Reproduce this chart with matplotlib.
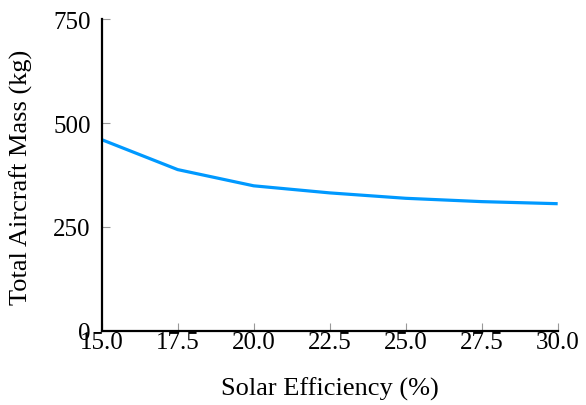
import matplotlib
matplotlib.use("Agg")
import matplotlib.pyplot as plt

# solar efficiency (%) vs total aircraft mass (kg)
efficiency = [15.0, 17.5, 20.0, 22.5, 25.0, 27.5, 30.0]
mass = [460, 388, 349, 332, 319, 311, 306]
xticks = [15.0, 17.5, 20.0, 22.5, 25.0, 27.5, 30.0]
yticks = [0, 250, 500, 750]

plt.rcParams['font.family'] = ['Liberation Serif', 'DejaVu Serif']
plt.rcParams['mathtext.fontset'] = 'stix'

fig = plt.figure(figsize=(5.86, 4.06), dpi=100)
ax = fig.add_axes([0.1735, 0.1823, 0.7782, 0.7684])

ax.plot(efficiency, mass, color='#0099ff', linewidth=2.3, solid_capstyle='butt')

ax.set_xlim(15, 30)
ax.set_ylim(0, 750)
ax.set_xticks(xticks)
ax.set_xticklabels(['%.1f' % t for t in xticks])
ax.set_yticks(yticks)

for s in ['top', 'right']:
    ax.spines[s].set_visible(False)
for s in ['left', 'bottom']:
    ax.spines[s].set_linewidth(1.6)
    ax.spines[s].set_color('black')

ax.tick_params(axis='x', direction='in', length=6, width=0.8, color='#999999',
               labelsize=18, pad=0)
ax.tick_params(axis='y', direction='in', length=6, width=0.8, color='#999999',
               labelsize=18, pad=8)

ax.set_xlabel('Solar Efficiency (%)', fontsize=19)
ax.xaxis.set_label_coords(0.5, -0.147)
ax.set_ylabel('Total Aircraft Mass (kg)', fontsize=19)
ax.yaxis.set_label_coords(-0.151, 0.495)

fig.savefig('out.png', dpi=100)
